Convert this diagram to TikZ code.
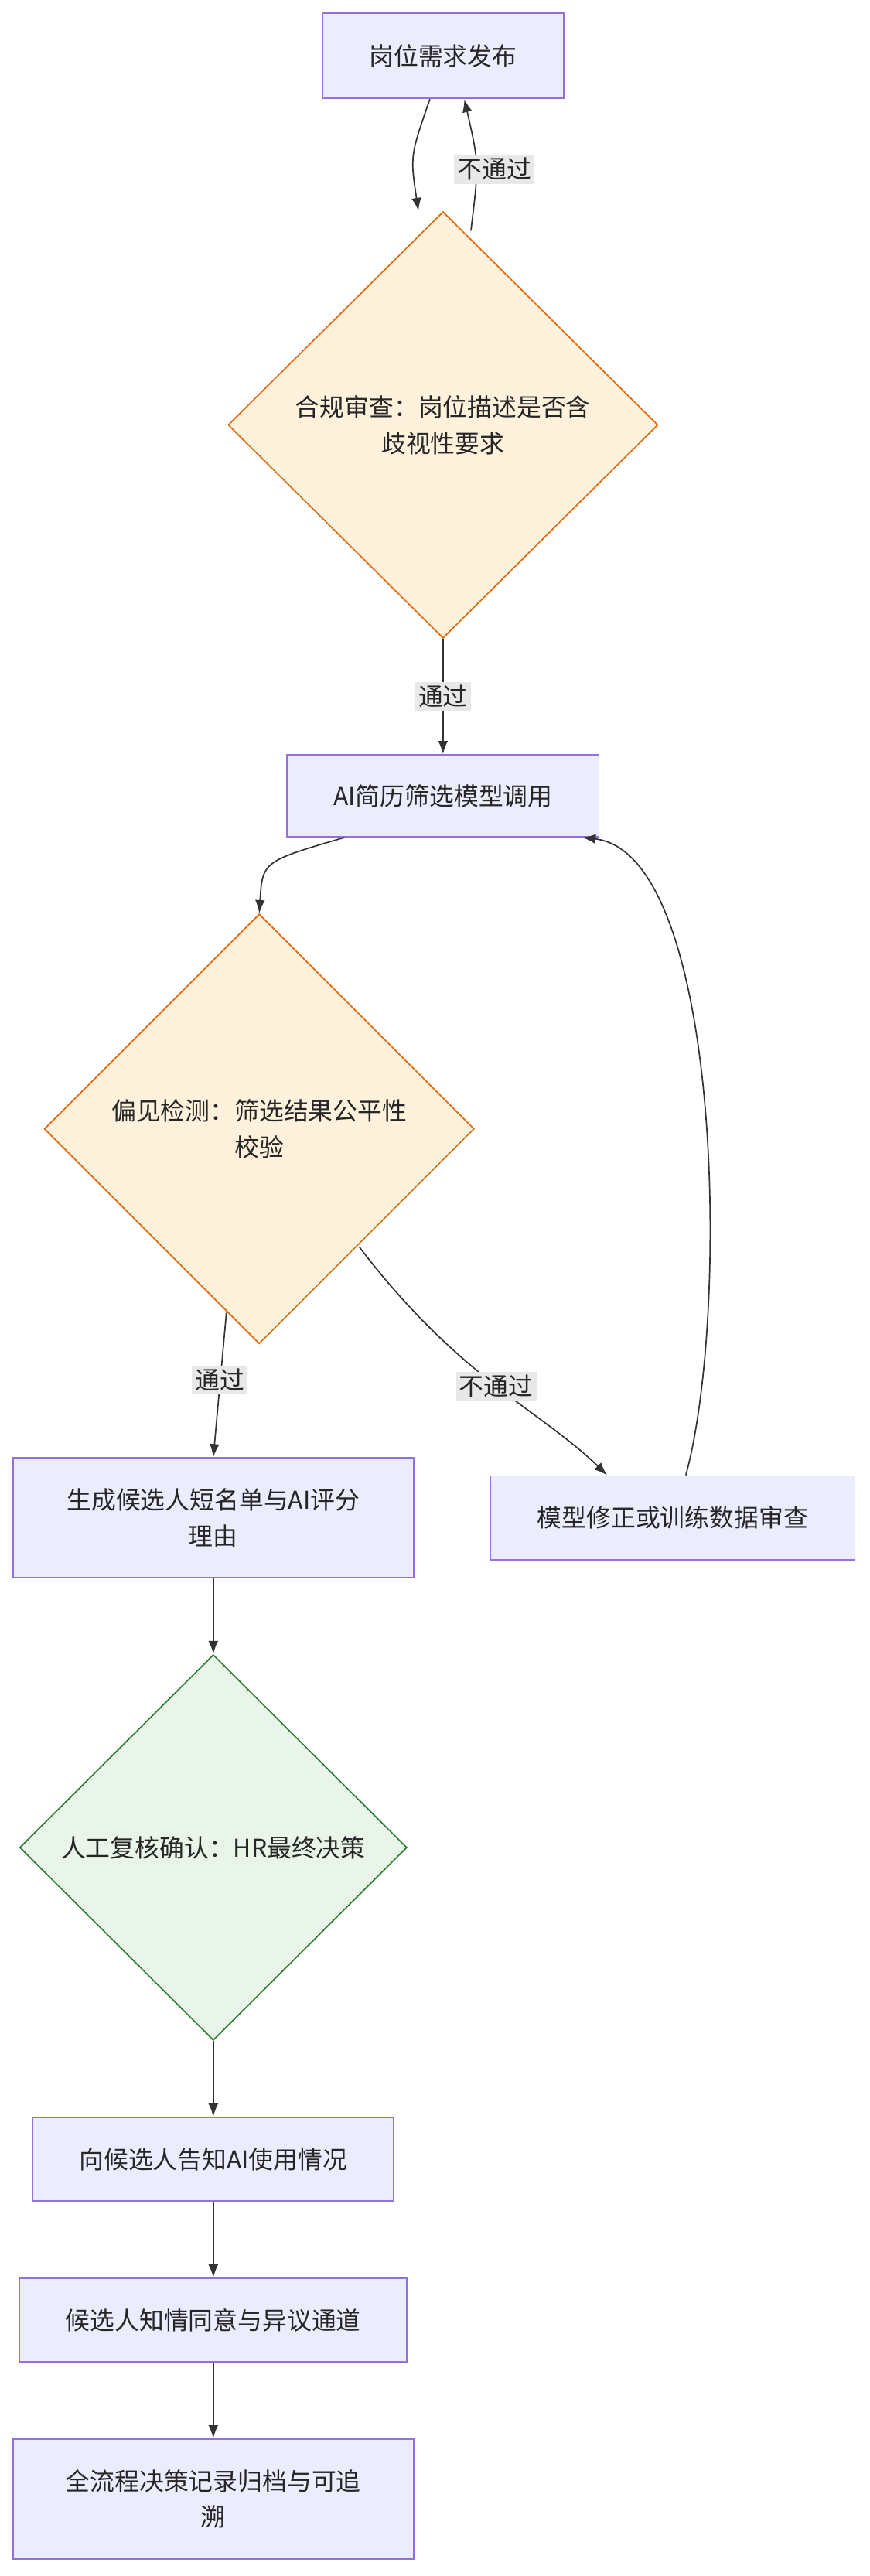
\documentclass[tikz,border=0pt]{standalone}
\usepackage{fontspec}
\setmainfont{Noto Sans CJK SC}
\usetikzlibrary{shapes.geometric, arrows.meta}

\definecolor{boxfill}{HTML}{ECECFF}
\definecolor{boxline}{HTML}{9370DB}
\definecolor{chkfill}{HTML}{FFF2DD}
\definecolor{chkline}{HTML}{E06A10}
\definecolor{hrfill}{HTML}{E8F5E8}
\definecolor{hrline}{HTML}{2E7D32}
\definecolor{edgeline}{HTML}{333333}

\tikzset{
  every step/.style={draw=boxline, fill=boxfill, line width=0.8pt, align=center,
    font=\fontsize{15}{22}\selectfont, text=black!85},
  check/.style={diamond, draw=chkline, fill=chkfill, line width=0.8pt, align=center,
    font=\fontsize{15}{22}\selectfont, text=black!85, inner sep=0pt, aspect=1},
  hrcheck/.style={check, draw=hrline, fill=hrfill},
  flow/.style={-{Latex[length=8pt,width=6pt]}, draw=edgeline, line width=0.8pt},
  tag/.style={fill=black!9, font=\fontsize{15}{18}\selectfont, text=black!85, inner sep=2pt},
}

\begin{document}
\begin{tikzpicture}[x=1pt, y=-1pt]
\useasboundingbox (0,0) rectangle (530,1570);

% boxes
\node [every step, minimum width=147, minimum height=52] (post) at (270,34) {岗位需求发布};
\node [check, minimum width=262, minimum height=260] (legal) at (270,259) {合规审查：岗位描述是否含\\歧视性要求};
\node [every step, minimum width=190, minimum height=50] (screen) at (270,485) {AI简历筛选模型调用};
\node [check, minimum width=262, minimum height=262] (bias) at (158,688) {偏见检测：筛选结果公平性\\校验};
\node [every step, minimum width=244, minimum height=73] (list) at (130,925) {生成候选人短名单与AI评分\\理由};
\node [every step, minimum width=222, minimum height=51] (fix) at (410,925) {模型修正或训练数据审查};
\node [hrcheck, minimum width=236, minimum height=235] (hr) at (130,1126) {人工复核确认：HR最终决策};
\node [every step, minimum width=220, minimum height=51] (notice) at (130,1316) {向候选人告知AI使用情况};
\node [every step, minimum width=236, minimum height=51] (consent) at (130,1414) {候选人知情同意与异议通道};
\node [every step, minimum width=244, minimum height=73] (archive) at (130,1523) {全流程决策记录归档与可追\\溯};

% connectors
\draw [flow] ([xshift=-8]post.south) .. controls (250,95) .. (legal.north -| 255,0);
\draw [flow] (legal.north -| 287,0) ++(0,12) .. controls (292,100) .. ([xshift=13]post.south)
  node [tag, pos=0.45, right=-14] {不通过};
\draw [flow] (legal.south) -- (screen.north) node [tag, midway] {通过};
\draw [flow] ([xshift=-60]screen.south) .. controls (160,525) .. (bias.north);
\draw [flow] (138,800) -- (list.north) node [tag, midway, yshift=3] {通过};
\draw [flow] (219,760) .. controls (280,840) and (330,860) .. ([xshift=-40]fix.north)
  node [tag, pos=0.5] {不通过};
\draw [flow] ([xshift=8]fix.north) .. controls (445,800) and (440,520) .. ([xshift=85]screen.south);
\draw [flow] (list) -- (hr);
\draw [flow] (hr) -- (notice);
\draw [flow] (notice) -- (consent);
\draw [flow] (consent) -- (archive);

\end{tikzpicture}
\end{document}
